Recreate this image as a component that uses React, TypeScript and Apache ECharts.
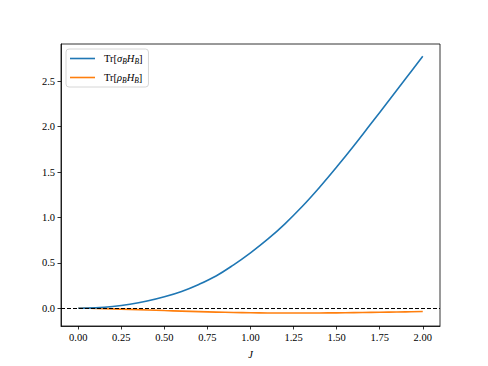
import React, { useEffect, useRef } from "react";
import * as echarts from "echarts";

const J = [0, 0.1, 0.2, 0.3, 0.4, 0.5, 0.6, 0.7, 0.8, 0.9, 1.0, 1.1, 1.2, 1.3, 1.4, 1.5, 1.6, 1.7, 1.8, 1.9, 2.0];
const sigmaH = [0, 0.004, 0.018, 0.043, 0.079, 0.126, 0.185, 0.262, 0.355, 0.475, 0.61, 0.76, 0.93, 1.12, 1.33, 1.555, 1.79, 2.035, 2.28, 2.527, 2.775];
const rhoH = [0, -0.002, -0.007, -0.013, -0.019, -0.026, -0.032, -0.038, -0.043, -0.047, -0.050, -0.052, -0.053, -0.053, -0.052, -0.051, -0.049, -0.046, -0.043, -0.040, -0.037];
const xTicks = [0, 0.25, 0.5, 0.75, 1.0, 1.25, 1.5, 1.75, 2.0];
const yTicks = [0, 0.5, 1.0, 1.5, 2.0, 2.5];
const names = ["Tr[σBHB]", "Tr[ρBHB]"];

const FONT = "'Liberation Serif', 'DejaVu Serif', serif";

export default function App() {
  const ref = useRef<HTMLDivElement>(null);
  useEffect(() => {
    const chart = echarts.init(ref.current!, undefined, { renderer: "svg" });
    const sub = (g: string) => `{n|Tr[}{i|${g}}{s|B}{i|H}{s|B}{n|]}`;
    const lbl = { fontFamily: FONT, fontSize: 10.5, color: "#000" };
    chart.setOption({
      animation: false,
      backgroundColor: "#ffffff",
      textStyle: { fontFamily: FONT },
      grid: {
        left: 61,
        right: 48,
        top: 44,
        bottom: 40,
        show: true,
        borderColor: "#000000",
        borderWidth: 0.8,
        backgroundColor: "transparent",
      },
      legend: {
        left: 66,
        top: 49,
        orient: "vertical",
        data: names.map((n) => ({ name: n, icon: "rect" })),
        itemWidth: 25,
        itemHeight: 1.6,
        itemGap: 7,
        padding: [4, 6, 3, 4],
        borderColor: "#cccccc",
        borderWidth: 0.8,
        borderRadius: 3,
        backgroundColor: "rgba(255,255,255,0.8)",
        formatter: (n: string) => (n === names[0] ? sub("σ") : sub("ρ")),
        textStyle: {
          ...lbl,
          padding: [0, 0, 0, 4],
          rich: {
            n: { ...lbl },
            i: { ...lbl, fontStyle: "italic" },
            s: { ...lbl, fontStyle: "italic", fontSize: 7.5, padding: [5, 0, 0, 0] },
          },
        },
      },
      xAxis: {
        type: "value",
        min: -0.1,
        max: 2.1,
        name: "J",
        nameLocation: "middle",
        nameGap: 23,
        nameTextStyle: { ...lbl, fontStyle: "italic" },
        axisLine: { show: true, onZero: false, lineStyle: { color: "#000", width: 0.8 } },
        axisTick: { show: true, inside: false, length: 3.5, lineStyle: { color: "#000", width: 0.8 }, customValues: xTicks },
        axisLabel: {
          show: true,
          margin: 6,
          ...lbl,
          customValues: xTicks,
          formatter: (v: number) => v.toFixed(2),
        },
        splitLine: { show: false },
      },
      yAxis: {
        type: "value",
        min: -0.196,
        max: 2.911,
        axisLine: { show: true, onZero: false, lineStyle: { color: "#000", width: 0.8 } },
        axisTick: { show: true, inside: false, length: 3.5, lineStyle: { color: "#000", width: 0.8 }, customValues: yTicks },
        axisLabel: {
          show: true,
          margin: 6,
          ...lbl,
          customValues: yTicks,
          formatter: (v: number) => v.toFixed(1),
        },
        splitLine: { show: false },
      },
      series: [
        {
          name: names[0],
          type: "line",
          data: J.map((x, i) => [x, sigmaH[i]]),
          smooth: 0.4,
          symbol: "none",
          lineStyle: { color: "#1f77b4", width: 1.6 },
          itemStyle: { color: "#1f77b4" },
          z: 3,
          markLine: {
            silent: true,
            symbol: "none",
            label: { show: false },
            lineStyle: { color: "#000", type: [4, 2], width: 1 },
            data: [{ yAxis: 0 }],
          },
        },
        {
          name: names[1],
          type: "line",
          data: J.map((x, i) => [x, rhoH[i]]),
          smooth: 0.4,
          symbol: "none",
          lineStyle: { color: "#ff7f0e", width: 1.6 },
          itemStyle: { color: "#ff7f0e" },
          z: 2,
        },
      ],
    });
    return () => chart.dispose();
  }, []);
  return <div ref={ref} style={{ width: 488, height: 366, position: "absolute", left: 0, top: 0 }} />;
}
